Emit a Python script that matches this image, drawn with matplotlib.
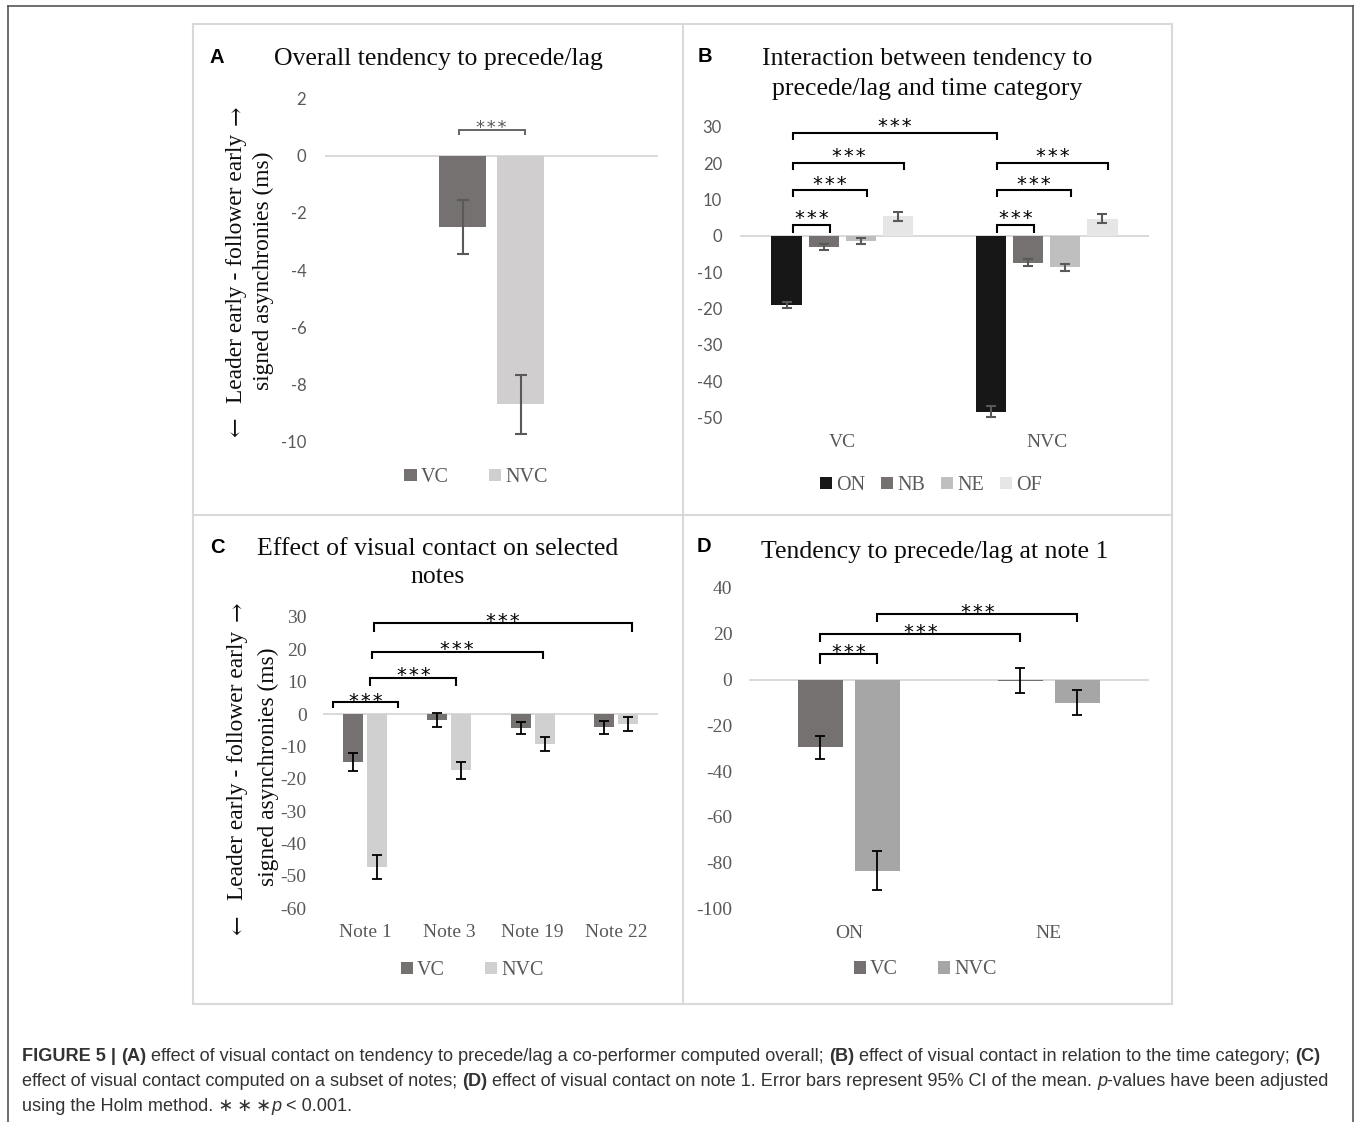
import matplotlib
matplotlib.use('Agg')
import matplotlib.pyplot as plt
from matplotlib.lines import Line2D
from matplotlib.patches import Rectangle, Patch
import numpy as np

plt.rcParams['axes.unicode_minus'] = False

# ---------------- data ----------------
# Panel A
a_series = ['VC', 'NVC']
a_means = [-2.49, -8.70]
a_ci = [0.95, 1.03]

# Panel B
b_groups = ['VC', 'NVC']
b_series = ['ON', 'NB', 'NE', 'OF']
b_on = [-19.0, -48.3]
b_nb = [-3.1, -7.4]
b_ne = [-1.5, -8.65]
b_of = [5.4, 4.75]
b_on_ci = [0.8, 1.45]
b_nb_ci = [0.9, 0.95]
b_ne_ci = [0.8, 0.95]
b_of_ci = [1.2, 1.3]

# Panel C
c_notes = ['Note 1', 'Note 3', 'Note 19', 'Note 22']
c_vc = [-14.8, -1.9, -4.4, -4.1]
c_nvc = [-47.1, -17.3, -9.2, -3.1]
c_vc_ci = [2.7, 2.2, 1.85, 2.0]
c_nvc_ci = [3.7, 2.6, 2.2, 2.1]

# Panel D
d_cats = ['ON', 'NE']
d_vc = [-29.6, -0.5]
d_nvc = [-83.5, -10.2]
d_vc_ci = [5.1, 5.6]
d_nvc_ci = [8.5, 5.4]

STARS = '*\u200a*\u200a*'
YLAB1 = 'Leader early - follower early'
YLAB2 = 'signed asynchronies (ms)'

# ---------------- layout helpers ----------------
W, H = 1358, 1122
fig = plt.figure(figsize=(W / 100, H / 100), dpi=100)


def fx(x):
    return x / W


def fy(y):
    return 1 - y / H


def add_ax(x0, y0, x1, y1):
    ax = fig.add_axes([fx(x0), fy(y1), (x1 - x0) / W, (y1 - y0) / H])
    for s in ax.spines.values():
        s.set_visible(False)
    ax.set_facecolor('none')
    return ax


SERIF = ['Liberation Serif', 'DejaVu Serif']
SANS = ['Lato', 'DejaVu Sans']
LSANS = ['Liberation Sans', 'DejaVu Sans']
STARFONT = ['DejaVu Sans']
GREY = '#595959'
ZERO = '#D9D9D9'

# frames
fig.add_artist(Line2D([fx(8), fx(8)], [fy(6), fy(1122)], color='#555555', lw=1.2))
fig.add_artist(Line2D([fx(8), fx(1353)], [fy(6), fy(6)], color='#555555', lw=1.2))
fig.add_artist(Line2D([fx(1353), fx(1353)], [fy(6), fy(1122)], color='#555555', lw=1.2))
fig.add_artist(Rectangle((fx(193), fy(1004)), (1172 - 193) / W, (1004 - 24) / H,
                         fill=False, edgecolor=ZERO, lw=1.5))
fig.add_artist(Line2D([fx(683), fx(683)], [fy(24), fy(1004)], color=ZERO, lw=1.5))
fig.add_artist(Line2D([fx(193), fx(1172)], [fy(515), fy(515)], color=ZERO, lw=1.5))


def style_ax(ax, tickfont, tickfs, ypad, xpad=11):
    ax.tick_params(axis='both', length=0, colors=GREY)
    ax.tick_params(axis='y', pad=ypad)
    ax.tick_params(axis='x', pad=xpad)
    for lab in ax.get_yticklabels() + ax.get_xticklabels():
        lab.set_family(tickfont)
        lab.set_fontsize(tickfs)
        lab.set_color(GREY)
    ax.axhline(0, color=ZERO, lw=1.4, zorder=0.5)


def bracket(ax, x1, x2, y, h, star_dy, color='black', fs=14, lw=1.5):
    ax.plot([x1, x1, x2, x2], [y - h, y, y, y - h], color=color, lw=lw,
            clip_on=False, solid_joinstyle='miter', solid_capstyle='butt')
    ax.annotate(STARS, xy=((x1 + x2) / 2, y), xytext=(0, star_dy),
                textcoords='offset points', ha='center', va='baseline',
                fontsize=fs, family=STARFONT, color=color, annotation_clip=False)


def title(x, y, s, fs=18.5):
    fig.text(fx(x), fy(y), s, ha='center', va='baseline', fontsize=fs,
             family=SERIF, color='#0D0D0D')


def letter(x, y, s):
    fig.text(fx(x), fy(y), s, ha='left', va='baseline', fontsize=14.5,
             family=LSANS, fontweight='bold', color='black')


def legend(handles, cx, cy, ncol, colsp):
    fig.legend(handles=handles, loc='center', bbox_to_anchor=(fx(cx), fy(cy)),
               ncol=ncol, frameon=False, handlelength=0.6, handleheight=0.6,
               handletextpad=0.2, columnspacing=colsp, borderpad=0,
               prop={'family': SERIF, 'size': 14.5}, labelcolor=GREY)


ylab_kw = dict(rotation=90, ha='center', va='center', fontsize=16.8,
               family=SERIF, color='#0D0D0D')
arrow_kw = dict(rotation=90, ha='center', va='center', fontsize=16.8,
                family=['DejaVu Serif'], color='#0D0D0D')


def ylabel(x1, x2, ymid, ytop_arrow, ybot_arrow):
    fig.text(fx(x1), fy(ymid), YLAB1, **ylab_kw)
    fig.text(fx(x1), fy(ytop_arrow), '\u2192', **arrow_kw)
    fig.text(fx(x1), fy(ybot_arrow), '\u2190', **arrow_kw)
    fig.text(fx(x2), fy(ymid + 2), YLAB2, **ylab_kw)


# ---------------- Panel A ----------------
axA = add_ax(325, 98.3, 658.3, 441.7)
axA.set_xlim(-0.5, 0.5)
axA.set_ylim(-10, 2)
a_cols = ['#767171', '#D0CECE']
a_off = [-0.087, 0.087]
for i, s in enumerate(a_series):
    axA.bar(a_off[i], a_means[i], 0.14, color=a_cols[i], yerr=a_ci[i],
            error_kw=dict(ecolor=GREY, elinewidth=1.5, capsize=4, capthick=1.5),
            label=s, zorder=2)
axA.set_yticks(np.arange(-10, 3, 2))
axA.set_xticks([])
style_ax(axA, SANS, 12, ypad=13.5)
bracket(axA, a_off[0] - 0.012, a_off[1] + 0.012, 0.9, 0.18, -2.0, color=GREY, fs=13, lw=1.3)
letter(210, 63, 'A')
title(438, 65, 'Overall tendency to precede/lag')
ylabel(236.7, 263, 268.5, 115, 427)
legend([Patch(facecolor=c, label=l) for c, l in zip(a_cols, a_series)], 476, 477.5, 2, 2.0)

# ---------------- Panel B ----------------
axB = add_ax(740.3, 126.7, 1148.7, 417.7)
axB.set_xlim(-0.5, 1.5)
axB.set_ylim(-50, 30)
b_cols = ['#171717', '#767171', '#BFBFBF', '#E7E6E6']
b_vals = [b_on, b_nb, b_ne, b_of]
b_cis = [b_on_ci, b_nb_ci, b_ne_ci, b_of_ci]
b_off = [-0.273, -0.091, 0.091, 0.273]
xg = np.arange(len(b_groups))
for j, s in enumerate(b_series):
    axB.bar(xg + b_off[j], b_vals[j], 0.149, color=b_cols[j], yerr=b_cis[j],
            error_kw=dict(ecolor=GREY, elinewidth=1.5, capsize=3.6, capthick=1.5),
            label=s, zorder=2)
axB.set_yticks(np.arange(-50, 31, 10))
axB.set_xticks(xg)
axB.set_xticklabels(b_groups)
style_ax(axB, SANS, 12, ypad=13.2, xpad=11.5)
for lab in axB.get_xticklabels():
    lab.set_family(SERIF)
    lab.set_fontsize(14)
d = 0.03
bracket(axB, 0 + b_off[0] + d, 1 + b_off[0] + d, 28.4, 2.1, 0.5)
bracket(axB, 0 + b_off[0] + d, 0 + b_off[3] + d, 20.1, 1.9, 0.5)
bracket(axB, 0 + b_off[0] + d, 0 + b_off[2] + d, 12.5, 1.9, 0.5)
bracket(axB, 0 + b_off[0] + d, 0 + b_off[1] + d, 3.0, 2.2, 0.5)
bracket(axB, 1 + b_off[0] + d, 1 + b_off[3] + d, 20.1, 1.9, 0.5)
bracket(axB, 1 + b_off[0] + d, 1 + b_off[2] + d, 12.5, 1.9, 0.5)
bracket(axB, 1 + b_off[0] + d, 1 + b_off[1] + d, 3.0, 2.2, 0.5)
letter(698, 61.7, 'B')
title(927.5, 65, 'Interaction between tendency to')
title(927.5, 95, 'precede/lag and time category')
legend([Patch(facecolor=c, label=l) for c, l in zip(b_cols, b_series)], 931, 485.5, 4, 0.8)

# ---------------- Panel C ----------------
axC = add_ax(323.3, 617, 658.3, 908.3)
axC.set_xlim(-0.5, 3.5)
axC.set_ylim(-60, 30)
c_cols = ['#767171', '#D0D0D0']
xc = np.arange(len(c_notes))
ekw = dict(ecolor='black', elinewidth=1.3, capsize=3.4, capthick=1.3)
axC.bar(xc - 0.143, c_vc, 0.238, color=c_cols[0], yerr=c_vc_ci, error_kw=ekw, zorder=2)
axC.bar(xc + 0.143, c_nvc, 0.238, color=c_cols[1], yerr=c_nvc_ci, error_kw=ekw, zorder=2)
axC.set_yticks(np.arange(-60, 31, 10))
axC.set_xticks(xc)
axC.set_xticklabels(c_notes)
style_ax(axC, SERIF, 14, ypad=12, xpad=11)
bracket(axC, -0.38, 0.39, 3.8, 1.8, -3.5)
bracket(axC, 0.06, 1.09, 11.2, 2.4, -2.5)
bracket(axC, 0.08, 2.12, 19.3, 2.3, -2.5)
bracket(axC, 0.10, 3.19, 28.0, 2.7, -2.5)
letter(210, 552.7, 'C')
title(438, 555, 'Effect of visual contact on selected')
title(438, 583.3, 'notes')
ylabel(238, 268, 765, 611, 925)
legend([Patch(facecolor=c, label=l) for c, l in zip(c_cols, a_series)], 472, 970.5, 2, 2.0)

# ---------------- Panel D ----------------
axD = add_ax(749, 588, 1148.7, 908.3)
axD.set_xlim(-0.5, 1.5)
axD.set_ylim(-100, 40)
d_cols = ['#767171', '#A6A6A6']
xd = np.arange(len(d_cats))
ekw = dict(ecolor='black', elinewidth=1.3, capsize=3.6, capthick=1.3)
axD.bar(xd - 0.1425, d_vc, 0.225, color=d_cols[0], yerr=d_vc_ci, error_kw=ekw, zorder=2)
axD.bar(xd + 0.1425, d_nvc, 0.225, color=d_cols[1], yerr=d_nvc_ci, error_kw=ekw, zorder=2)
axD.set_yticks(np.arange(-100, 41, 20))
axD.set_xticks(xd)
axD.set_xticklabels(d_cats)
style_ax(axD, SERIF, 14, ypad=12, xpad=12)
bracket(axD, -0.1425, 0.1425, 11.0, 4.2, -2.5)
bracket(axD, -0.1425, 1 - 0.1425, 19.7, 3.5, -2.5)
bracket(axD, 0.1425, 1 + 0.1425, 28.6, 3.6, -2.5)
letter(697, 552.3, 'D')
title(934.5, 558.3, 'Tendency to precede/lag at note 1')
legend([Patch(facecolor=c, label=l) for c, l in zip(d_cols, a_series)], 925, 970, 2, 2.0)

# ---------------- caption ----------------
cap_lines = [
    [('FIGURE 5 | ', 'b'), ('(A)', 'b'),
     (' effect of visual contact on tendency to precede/lag a co-performer computed overall; ', 'n'),
     ('(B)', 'b'), (' effect of visual contact in relation to the time category; ', 'n'), ('(C)', 'b')],
    [('effect of visual contact computed on a subset of notes; ', 'n'), ('(D)', 'b'),
     (' effect of visual contact on note 1. Error bars represent 95% CI of the mean. ', 'n'),
     ('p', 'i'), ('-values have been adjusted', 'n')],
    [('using the Holm method. \u2217\u2009\u2217\u2009\u2217', 'n'), ('p', 'i'), (' < 0.001.', 'n')],
]
cap_base = [1061, 1086, 1111]
renderer = fig.canvas.get_renderer()


def run_kw(style, fs):
    kw = dict(fontsize=fs, family=LSANS, color='#333333', va='baseline', ha='left')
    if style == 'b':
        kw['fontweight'] = 'bold'
    if style == 'i':
        kw['fontstyle'] = 'italic'
    return kw


def run_width(s, style, fs):
    kw = run_kw(style, fs)
    t1 = fig.text(0, 0, '|' + s + '|', **kw)
    t2 = fig.text(0, 0, '||', **kw)
    w = t1.get_window_extent(renderer).width - t2.get_window_extent(renderer).width
    t1.remove()
    t2.remove()
    return w


fs0 = 12.0
w0 = sum(run_width(s, st, fs0) for s, st in cap_lines[0])
fs_cap = fs0 * (1326 - 22) / w0
for line, yb in zip(cap_lines, cap_base):
    x = 22
    for s, st in line:
        fig.text(fx(x), fy(yb), s, **run_kw(st, fs_cap))
        x += run_width(s, st, fs_cap)

fig.savefig('out.png', dpi=100)
